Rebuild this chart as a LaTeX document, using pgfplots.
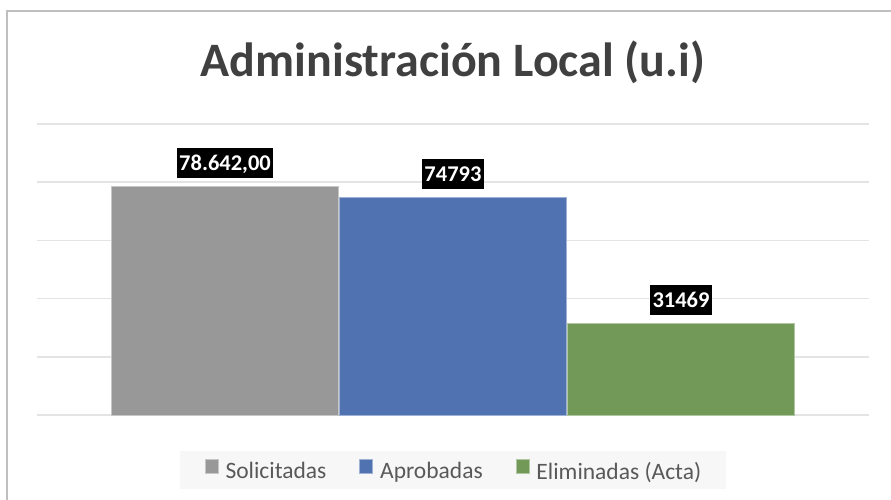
\documentclass[border=0pt]{standalone}
\usepackage{pgfplots}
\pgfplotsset{compat=1.18}
\usepackage{fontspec}
\setmainfont{Carlito}

\definecolor{solgray}{RGB}{152,152,152}
\definecolor{aprblue}{RGB}{80,114,176}
\definecolor{elimgreen}{RGB}{114,153,88}
\definecolor{gridgray}{RGB}{228,228,228}
\definecolor{framegray}{RGB}{191,191,191}
\definecolor{titlegray}{RGB}{64,64,64}
\definecolor{textgray}{RGB}{89,89,89}
\definecolor{legendbg}{RGB}{247,247,247}

\begin{document}
\begin{tikzpicture}[x=1bp, y=1bp]
\useasboundingbox (0,0) rectangle (891,500);
% chart frame (left and top edges visible)
\draw[framegray, line width=1.5bp] (7,0) -- (7,489) -- (891,489);
% title
\node[anchor=base, text=titlegray, font=\bfseries\fontsize{48bp}{58bp}\selectfont]
  at (453,423) {Administración Local (u.i)};

\begin{axis}[
    at={(37bp,85bp)}, anchor=south west,
    scale only axis,
    width=832bp, height=291bp,
    ybar=1bp, bar width=227bp,
    xmin=-1, xmax=1,
    ymin=0, ymax=100000,
    ytick={0,20000,40000,60000,80000,100000},
    scaled y ticks=false,
    yticklabels={}, xtick=\empty,
    ymajorgrids,
    grid style={gridgray, line width=1.6bp},
    axis line style={draw=none},
    major tick style={draw=none},
    clip=false,
    point meta=explicit symbolic,
    nodes near coords,
    every node near coord/.append style={
        fill=black, text=white,
        font=\bfseries\fontsize{22.5bp}{27bp}\selectfont,
        inner xsep=2.5bp, inner ysep=7.5bp,
        text height=15bp, text depth=0bp,
        anchor=south, yshift=8bp},
    legend columns=3,
    legend style={
        at={(0.5,-0.189)}, anchor=center,
        fill=legendbg, draw=none,
        text=textgray,
        font=\fontsize{23.5bp}{28bp}\selectfont,
        inner xsep=25bp, inner ysep=8bp,
        nodes={inner sep=0pt},
        /tikz/every odd column/.append style={column sep=7bp},
        /tikz/every even column/.append style={column sep=33bp},
    },
    legend image code/.code={\fill[#1] (0bp,-2bp) rectangle (13bp,11.5bp);},
]
\addplot[fill=solgray, draw=white!45!solgray, line width=0.75bp]
  coordinates {(0,78642) [78.642,00]};
\addplot[fill=aprblue, draw=white!45!aprblue, line width=0.75bp]
  coordinates {(0,74793) [74793]};
\addplot[fill=elimgreen, draw=white!45!elimgreen, line width=0.75bp]
  coordinates {(0,31469) [31469]};
\legend{Solicitadas, Aprobadas, Eliminadas (Acta)}
\end{axis}
\end{tikzpicture}
\end{document}
